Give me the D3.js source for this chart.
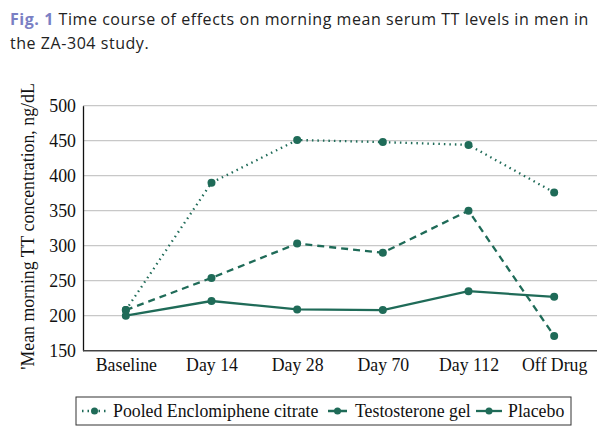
<!DOCTYPE html>
<html><head><meta charset="utf-8">
<script src="https://cdn.jsdelivr.net/npm/d3@7"></script>
<style>body{margin:0;background:#fff}</style>
</head><body>
<svg id="c" width="610" height="436"></svg>
<script>
const categories = ["Baseline","Day 14","Day 28","Day 70","Day 112","Off Drug"];
const pooled = [208, 390, 451, 448, 444, 376];
const gel = [208, 254, 303, 290, 350, 171];
const placebo = [200, 221, 209, 208, 235, 227];
const yTicks = [150,200,250,300,350,400,450,500];
const seriesNames = ["Pooled Enclomiphene citrate","Testosterone gel","Placebo"];

const color = "#1f6b58";
const serif = "Liberation Serif, serif";
const fs = 17.8;
const svg = d3.select("#c");
const M = {l:83, r:597, t:105.7, b:350.7};
const x = d3.scalePoint().domain(categories).range([M.l, M.r]).padding(0.5);
const y = d3.scaleLinear().domain([150,500]).range([M.b, M.t]);

// title
const t = svg.append("text").attr("x",10).attr("y",25).attr("font-family","Open Sans, sans-serif").attr("font-size",16).attr("letter-spacing",0.55).attr("fill","#222");
t.append("tspan").attr("fill","#7a7fc4").attr("font-weight","bold").text("Fig. 1");
t.append("tspan").text(" Time course of effects on morning mean serum TT levels in men in");
svg.append("text").attr("x",10).attr("y",49).attr("font-family","Open Sans, sans-serif").attr("font-size",16).attr("letter-spacing",0.55).attr("fill","#222").text("the ZA-304 study.");

// grid
svg.append("g").selectAll("line").data(yTicks.filter(d=>d>150)).join("line")
  .attr("x1",M.l).attr("x2",M.r).attr("y1",d=>y(d)).attr("y2",d=>y(d))
  .attr("stroke","#c8c8c8").attr("stroke-width",1.3);

// axes
const ya = svg.append("g").attr("transform",`translate(${M.l},0)`).call(d3.axisLeft(y).tickValues(yTicks).tickSize(0).tickPadding(7));
ya.select(".domain").attr("stroke","#111").attr("stroke-width",1.3);
ya.selectAll("text").attr("font-family",serif).attr("font-size",fs).attr("fill","#111");
const xa = svg.append("g").attr("transform",`translate(0,${M.b})`).call(d3.axisBottom(x).tickSize(0).tickPadding(8));
xa.select(".domain").attr("stroke","#444").attr("stroke-width",1.6).attr("d",`M${M.l},0H${M.r}`);
xa.selectAll("text").attr("font-family",serif).attr("font-size",fs).attr("fill","#111");

svg.append("text").attr("transform",`translate(34,${(75+378)/2}) rotate(-90)`).attr("text-anchor","middle")
  .attr("font-family",serif).attr("font-size",fs).attr("fill","#111")
  .text("'Mean morning TT concentration, ng/dL");

const dashes = ["1.5,4","7,5",null];
const data = [pooled, gel, placebo];
const line = d3.line().x((d,i)=>x(categories[i])).y(d=>y(d));
data.forEach((s,k)=>{
  const p = svg.append("path").datum(s).attr("d",line).attr("fill","none").attr("stroke",color)
    .attr("stroke-width",2.3);
  if(dashes[k]) p.attr("stroke-dasharray",dashes[k]);
  svg.append("g").selectAll("circle").data(s).join("circle")
    .attr("cx",(d,i)=>x(categories[i])).attr("cy",d=>y(d)).attr("r",4).attr("fill",color);
});

// legend
svg.append("rect").attr("x",76).attr("y",397).attr("width",495).attr("height",28).attr("fill","#fff").attr("stroke","#333").attr("stroke-width",1);
const lg = [{x1:82,x2:107,tx:113},{x1:328,x2:347,tx:355},{x1:476,x2:502,tx:508}];
lg.forEach((L,k)=>{
  const g = svg.append("g");
  g.append("line").attr("x1",L.x1).attr("x2",L.x2).attr("y1",411).attr("y2",411).attr("stroke",color).attr("stroke-width",2.3)
    .attr("stroke-dasharray",dashes[k]||null);
  g.append("circle").attr("cx",(L.x1+L.x2)/2).attr("cy",411).attr("r",3.5).attr("fill",color);
  g.append("text").attr("x",L.tx).attr("y",417).attr("font-family",serif).attr("font-size",fs).attr("fill","#111").text(seriesNames[k]);
});
</script>
</body></html>
